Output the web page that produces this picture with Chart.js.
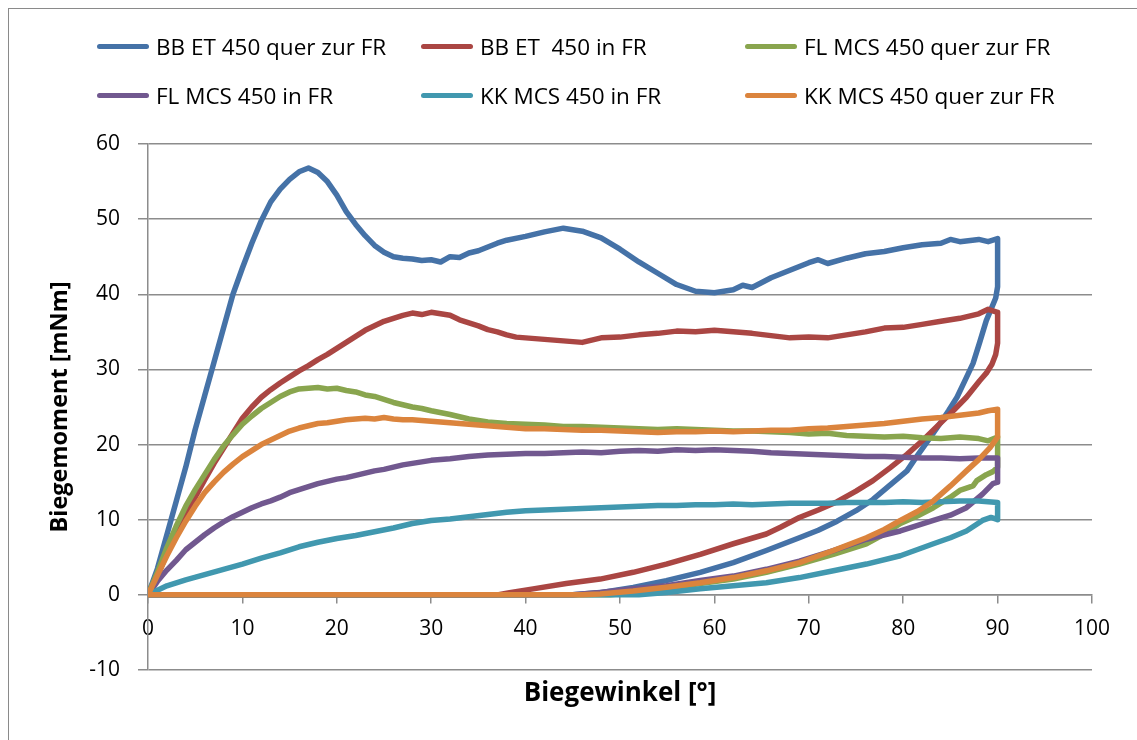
<!DOCTYPE html>
<html>
<head>
<meta charset="utf-8">
<script src="https://cdn.jsdelivr.net/npm/chart.js@4/dist/chart.umd.min.js"></script>
<style>
    body { margin: 0; background: #fff; overflow: hidden; }
    #rahmen { position: absolute; left: 8px; top: 8px; width: 1200px; height: 800px; border: 1px solid #8a8a8a; }
    #wrap { position: absolute; left: 0; top: 0; width: 1137px; height: 740px; }
    #legende { position: absolute; left: 0; top: 0; font-family: 'Open Sans', sans-serif; font-size: 22.5px; color: #000; }
    .legItem { position: absolute; white-space: pre; display: flex; align-items: center; height: 30px; }
    .legLine { width: 52px; height: 5px; border-radius: 3px; margin-right: 7px; }
</style>
</head>
<body>
<div id="rahmen"></div>
<div id="wrap">
    <canvas id="biegeChart" width="1137" height="740"></canvas>
    <div id="legende"></div>
</div>
<script>
// Messkurven: Belastung 0 -> 90°, Entlastung 90° -> 0
const serienNamen = ['BB ET 450 quer zur FR', 'BB ET  450 in FR', 'FL MCS 450 quer zur FR', 'FL MCS 450 in FR', 'KK MCS 450 in FR', 'KK MCS 450 quer zur FR'];
const serienFarben = ['#4572A7', '#AA4643', '#89A54E', '#71588F', '#4198AF', '#DB843D'];

const xTicks = [0, 10, 20, 30, 40, 50, 60, 70, 80, 90, 100];
const yTicks = [-10, 0, 10, 20, 30, 40, 50, 60];

const bbQuerWinkel = [0, 1, 2, 3, 4, 5, 6, 7, 8, 9, 10, 11, 12, 13, 14, 15, 16, 17, 18, 19, 20, 21, 22, 23, 24, 25, 26, 27, 28, 29, 30, 31, 32, 33, 34, 35, 36, 37, 38, 40, 42, 44, 45, 46, 48, 50, 52, 54, 56, 58, 60, 62, 63, 64, 66, 68, 70, 71, 72, 74, 76, 78, 80, 82, 84, 85, 86, 88, 89, 90,
    90, 90, 90, 89.8, 89.3, 88.8, 88.1, 87.4, 86.5, 85.7, 84.8, 83.9, 83, 82.1, 81.2, 80.4, 78.5, 76.8, 75, 73, 71, 69, 65.5, 62, 58.5, 54.9, 51.4, 47.9, 45, 0];
const bbQuerMoment = [0, 3.5, 8, 12.5, 17, 22, 26.5, 31, 35.5, 40, 43.5, 46.8, 49.8, 52.3, 54, 55.3, 56.3, 56.8, 56.2, 55, 53.2, 51, 49.3, 47.8, 46.5, 45.6, 45, 44.8, 44.7, 44.5, 44.6, 44.3, 45, 44.9, 45.5, 45.8, 46.3, 46.8, 47.2, 47.7, 48.3, 48.8, 48.6, 48.4, 47.5, 46, 44.3, 42.8, 41.3, 40.4, 40.2, 40.6, 41.2, 40.9, 42.2, 43.2, 44.2, 44.6, 44.1, 44.8, 45.4, 45.7, 46.2, 46.6, 46.8, 47.3, 47, 47.3, 47, 47.4,
    46, 43, 41, 39.5, 38, 36.5, 33.6, 30.8, 28.4, 26.3, 24.5, 22.8, 21.2, 19.6, 18, 16.5, 14.5, 12.7, 11.2, 9.8, 8.6, 7.6, 5.9, 4.3, 3.0, 1.9, 1.0, 0.3, 0, 0];

const bbInWinkel = [0, 1, 2, 3, 4, 5, 6, 7, 8, 9, 10, 11, 12, 13, 14, 15, 16, 17, 18, 19, 20, 21, 22, 23, 24, 25, 26, 27, 28, 29, 30, 31, 32, 33, 34, 35, 36, 37, 38, 39, 40, 42, 44, 46, 48, 50, 52, 54, 56, 58, 60, 62, 64, 66, 68, 70, 72, 74, 76, 78, 80, 82, 84, 86, 88, 89, 90,
    90, 90, 89.8, 89.4, 88.8, 88.1, 86.7, 85.3, 83.9, 82.2, 80.4, 78.6, 76.8, 75, 73, 71, 69, 67, 65.5, 62, 58.5, 54.9, 51.4, 47.9, 44.3, 40.8, 38.3, 37, 0];
const bbInMoment = [0, 2.5, 5.5, 8, 10.8, 13, 15.3, 17.5, 19.5, 21.5, 23.5, 25, 26.3, 27.3, 28.2, 29, 29.8, 30.5, 31.3, 32, 32.8, 33.6, 34.4, 35.2, 35.8, 36.4, 36.8, 37.2, 37.5, 37.3, 37.6, 37.4, 37.2, 36.6, 36.2, 35.8, 35.3, 35, 34.6, 34.3, 34.2, 34, 33.8, 33.6, 34.2, 34.3, 34.6, 34.8, 35.1, 35, 35.2, 35, 34.8, 34.5, 34.2, 34.3, 34.2, 34.6, 35, 35.5, 35.6, 36, 36.4, 36.8, 37.4, 38, 37.6,
    35.5, 33.5, 32, 30.7, 29.5, 28.5, 26.3, 24.5, 22.8, 20.7, 18.7, 16.9, 15.2, 13.8, 12.4, 11.3, 10.3, 9, 8.1, 6.8, 5.4, 4.1, 3.0, 2.1, 1.5, 0.8, 0.3, 0, 0];

const flQuerWinkel = [0, 1, 2, 3, 4, 5, 6, 7, 8, 9, 10, 11, 12, 13, 14, 15, 16, 17, 18, 19, 20, 21, 22, 23, 24, 25, 26, 27, 28, 29, 30, 32, 34, 36, 38, 40, 42, 44, 46, 48, 50, 52, 54, 56, 58, 60, 62, 64, 66, 68, 70, 72, 74, 76, 78, 80, 82, 84, 86, 88, 89, 90,
    90, 90, 89.5, 88.8, 87.8, 87.4, 86, 85, 83.2, 81.5, 79.7, 78, 76.1, 72.6, 69, 65.5, 62, 58.5, 54.9, 51.4, 49, 0];
const flQuerMoment = [0, 3, 6.3, 9.2, 11.8, 14, 16, 18, 19.8, 21.3, 22.7, 23.8, 24.8, 25.6, 26.4, 27, 27.4, 27.5, 27.6, 27.4, 27.5, 27.2, 27, 26.6, 26.4, 26, 25.6, 25.3, 25, 24.8, 24.5, 24, 23.4, 23, 22.8, 22.7, 22.6, 22.4, 22.4, 22.3, 22.2, 22.1, 22, 22.1, 22, 21.9, 21.8, 21.8, 21.7, 21.6, 21.4, 21.5, 21.2, 21.1, 21, 21.1, 20.9, 20.8, 21, 20.8, 20.5, 21,
    19, 17, 16.4, 16, 15.2, 14.5, 13.9, 13, 11.6, 10.5, 9.5, 8.1, 6.8, 5.4, 4.1, 3.0, 2.1, 1.5, 0.8, 0.3, 0, 0];

const flInWinkel = [0, 1, 2, 3, 4, 5, 6, 7, 8, 9, 10, 11, 12, 13, 14, 15, 16, 17, 18, 19, 20, 21, 22, 23, 24, 25, 26, 27, 28, 29, 30, 32, 34, 36, 38, 40, 42, 44, 46, 48, 50, 52, 54, 56, 58, 60, 62, 64, 66, 68, 70, 72, 74, 76, 78, 80, 82, 84, 86, 88, 90,
    90, 90, 89.5, 88.4, 86.7, 85, 83.2, 79.7, 76.1, 72.6, 69, 65.5, 62, 58.5, 54.9, 51.4, 47.9, 45, 0];
const flInMoment = [0, 1.8, 3.3, 4.6, 6, 7, 8, 8.9, 9.7, 10.4, 11, 11.6, 12.1, 12.5, 13, 13.6, 14, 14.4, 14.8, 15.1, 15.4, 15.6, 15.9, 16.2, 16.5, 16.7, 17, 17.3, 17.5, 17.7, 17.9, 18.1, 18.4, 18.6, 18.7, 18.8, 18.8, 18.9, 19, 18.9, 19.1, 19.2, 19.1, 19.3, 19.2, 19.3, 19.2, 19.1, 18.9, 18.8, 18.7, 18.6, 18.5, 18.4, 18.4, 18.3, 18.2, 18.2, 18.1, 18.2, 18.2,
    16.5, 15, 14.8, 13.4, 11.6, 10.6, 9.9, 8.5, 7.4, 5.9, 4.5, 3.4, 2.5, 1.9, 1.2, 0.8, 0.3, 0, 0];

const kkInWinkel = [0, 2, 4, 6, 8, 10, 12, 14, 16, 18, 20, 22, 24, 26, 28, 30, 32, 34, 36, 38, 40, 42, 44, 46, 48, 50, 52, 54, 56, 58, 60, 62, 64, 66, 68, 70, 72, 74, 76, 78, 80, 82, 84, 86, 88, 90,
    90, 90, 89.3, 88.4, 86.7, 85, 83.2, 79.7, 76.1, 72.6, 69, 65.5, 62, 58.5, 54.9, 52, 0];
const kkInMoment = [0, 1.2, 2, 2.7, 3.4, 4.1, 4.9, 5.6, 6.4, 7, 7.5, 7.9, 8.4, 8.9, 9.5, 9.9, 10.1, 10.4, 10.7, 11, 11.2, 11.3, 11.4, 11.5, 11.6, 11.7, 11.8, 11.9, 11.9, 12, 12, 12.1, 12, 12.1, 12.2, 12.2, 12.2, 12.3, 12.3, 12.3, 12.4, 12.3, 12.4, 12.5, 12.5, 12.3,
    11, 10, 10.3, 9.9, 8.5, 7.6, 6.8, 5.2, 4.1, 3.2, 2.3, 1.6, 1.2, 0.8, 0.3, 0, 0];

const kkQuerWinkel = [0, 1, 2, 3, 4, 5, 6, 7, 8, 9, 10, 11, 12, 13, 14, 15, 16, 17, 18, 19, 20, 21, 22, 23, 24, 25, 26, 27, 28, 29, 30, 32, 34, 36, 38, 40, 42, 44, 46, 48, 50, 52, 54, 56, 58, 60, 62, 64, 66, 68, 70, 72, 74, 76, 78, 80, 82, 84, 86, 88, 89, 90,
    90, 90, 89.2, 88, 86.7, 85, 83.2, 81.5, 79.7, 78, 76.1, 72.6, 69, 65.5, 62, 58.5, 54.9, 51.4, 47.9, 46, 0];
const kkQuerMoment = [0, 2.6, 5.2, 7.6, 9.8, 11.8, 13.6, 15, 16.3, 17.4, 18.4, 19.2, 20, 20.6, 21.2, 21.8, 22.2, 22.5, 22.8, 22.9, 23.1, 23.3, 23.4, 23.5, 23.4, 23.6, 23.4, 23.3, 23.3, 23.2, 23.1, 22.9, 22.7, 22.5, 22.3, 22.1, 22.1, 22, 21.9, 21.9, 21.8, 21.7, 21.6, 21.7, 21.7, 21.8, 21.7, 21.8, 21.9, 21.9, 22.1, 22.2, 22.4, 22.6, 22.8, 23.1, 23.4, 23.6, 23.9, 24.2, 24.5, 24.7,
    22.5, 21, 19.6, 18, 16.5, 14.5, 12.5, 11.1, 9.9, 8.7, 7.6, 5.9, 4.3, 3.2, 2.3, 1.6, 1.0, 0.5, 0.1, 0, 0];

const alleWinkel = [bbQuerWinkel, bbInWinkel, flQuerWinkel, flInWinkel, kkInWinkel, kkQuerWinkel];
const alleMomente = [bbQuerMoment, bbInMoment, flQuerMoment, flInMoment, kkInMoment, kkQuerMoment];

Chart.defaults.font.family = "'Open Sans', sans-serif";
Chart.defaults.color = '#000';

var datasets = serienNamen.map(function (name, i) {
    return {
        label: name,
        data: alleWinkel[i].map(function (w, k) { return { x: w, y: alleMomente[i][k] }; }),
        borderColor: serienFarben[i],
        backgroundColor: serienFarben[i],
        borderWidth: 5.5,
        borderCapStyle: 'round',
        borderJoinStyle: 'round',
        pointRadius: 0,
        showLine: true,
        tension: 0,
        order: serienNamen.length - i
    };
});

const gitterFarbe = '#8c8c8c';

var ctx = document.getElementById('biegeChart').getContext('2d');
var biegeChart = new Chart(ctx, {
    type: 'scatter',
    data: { datasets: datasets },
    options: {
        responsive: false,
        animation: false,
        devicePixelRatio: 1,
        layout: { padding: { top: 144, left: 8, right: 45, bottom: 70 } },
        plugins: {
            legend: { display: false },
            tooltip: { enabled: false }
        },
        scales: {
            x: {
                type: 'linear',
                position: { y: 0 },
                min: xTicks[0],
                max: xTicks[xTicks.length - 1],
                afterBuildTicks: function (scale) { scale.ticks = xTicks.map(function (v) { return { value: v }; }); },
                ticks: { padding: 14, font: { size: 21 }, maxRotation: 0, autoSkip: false },
                grid: { drawOnChartArea: false, drawTicks: true, tickLength: 8, color: gitterFarbe, lineWidth: 1.5 },
                border: { display: true, color: gitterFarbe, width: 1.5 },
                title: { display: true, text: 'Biegewinkel [°]', font: { size: 26, weight: 'bold' }, padding: { top: 22, bottom: 0 } }
            },
            y: {
                type: 'linear',
                min: yTicks[0],
                max: yTicks[yTicks.length - 1],
                afterBuildTicks: function (scale) { scale.ticks = yTicks.map(function (v) { return { value: v }; }); },
                afterFit: function (scale) { scale.width = 140; },
                ticks: { padding: 18, font: { size: 21 } },
                grid: { color: gitterFarbe, lineWidth: 1.5, tickLength: 10 },
                border: { display: true, color: gitterFarbe, width: 1.5 },
                title: { display: true, text: 'Biegemoment [mNm]', font: { size: 23.5, weight: 'bold' }, padding: { top: 38, bottom: 0 } }
            }
        }
    }
});

// Legende im Excel-Raster (3 Spalten, 2 Zeilen)
var htmlLegende = '';
biegeChart.data.datasets.forEach(function (ds, i) {
    let spalte = i % 3;
    let zeile = Math.floor(i / 3);
    htmlLegende += `<div class="legItem" style="left:${97 + spalte * 324}px; top:${31 + zeile * 49}px;">
        <span class="legLine" style="background:${ds.borderColor}"></span>${ds.label}</div>`;
});
document.getElementById('legende').innerHTML = htmlLegende;
</script>
</body>
</html>
